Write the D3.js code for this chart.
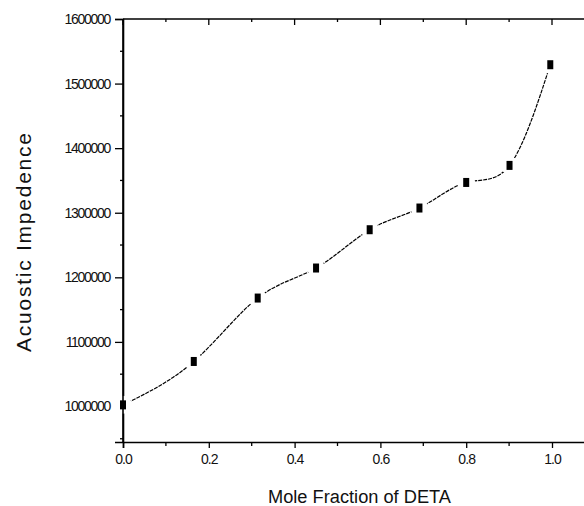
<!DOCTYPE html>
<html>
<head>
<meta charset="utf-8">
<script src="https://cdn.jsdelivr.net/npm/d3@7"></script>
<style>
  body { margin: 0; background: #fff; }
  text { font-family: "Liberation Sans", Arial, sans-serif; fill: #111; }
</style>
</head>
<body>
<div id="chart"></div>
<script>
// data
const moleFraction = [0, 0.165, 0.314, 0.45, 0.575, 0.691, 0.8, 0.901, 0.996]
const impedance = [1002500, 1069700, 1167900, 1214400, 1273700, 1307300, 1346900, 1373300, 1529200]
const xTicks = [0, 0.2, 0.4, 0.6, 0.8, 1.0]
const yTicks = [1000000, 1100000, 1200000, 1300000, 1400000, 1500000, 1600000]

const margin = {top: 19, right: 0, bottom: 64, left: 123}
const width = 584 - margin.left - margin.right
const height = 506 - margin.top - margin.bottom

const svg = d3.select("#chart").append("svg")
    .attr("width", 584)
    .attr("height", 506)
  .append("g")
    .attr("transform", "translate(" + margin.left + "," + margin.top + ")")

const xScale = d3.scaleLinear()
    .domain([0, 1.1])
    .range([0, 1.1 * 429])

const yScale = d3.scaleLinear()
    .domain([945000, 1600000])
    .range([height, 0])

// minor ticks
const xMinor = d3.range(0.1, 1.1, 0.2)
const yMinor = d3.range(950000, 1600000, 100000)

// bottom axis
const xGroup = svg.append("g")
    .attr("class", "x-axis")
    .attr("transform", `translate(0, ${height})`)
    .call(d3.axisBottom(xScale).tickValues(xTicks).tickSize(6).tickPadding(6)
        .tickFormat(d3.format(".1f")))
xGroup.selectAll(".tick line").attr("stroke-width", 1.3)
xGroup.selectAll(".tick text").style("font-size", "14px").style("letter-spacing", "-0.9px")
xGroup.selectAll(".minor").data(xMinor).join("line")
    .attr("class", "minor")
    .attr("x1", d => xScale(d)).attr("x2", d => xScale(d))
    .attr("y1", 0).attr("y2", 4)
    .attr("stroke", "#000").attr("stroke-width", 1.3)

// left axis
const yGroup = svg.append("g")
    .attr("class", "y-axis")
    .call(d3.axisLeft(yScale).tickValues(yTicks).tickSize(8).tickPadding(5)
        .tickFormat(d3.format("d")))
yGroup.selectAll(".tick line").attr("stroke-width", 1.3)
yGroup.selectAll(".tick text").style("font-size", "14px").style("letter-spacing", "-1.3px")
yGroup.selectAll(".minor").data(yMinor).join("line")
    .attr("class", "minor")
    .attr("x1", -3).attr("x2", 0)
    .attr("y1", d => yScale(d)).attr("y2", d => yScale(d))
    .attr("stroke", "#000").attr("stroke-width", 1.3)

svg.selectAll(".domain").attr("stroke-width", 1.6).attr("stroke", "#000")

// top axis, ticks pointing in
const topGroup = svg.append("g").attr("class", "top-axis")
topGroup.append("line")
    .attr("x1", 0).attr("x2", xScale(1.1))
    .attr("y1", 0).attr("y2", 0)
    .attr("stroke", "#000").attr("stroke-width", 1.6)
topGroup.selectAll(".major").data(xTicks).join("line")
    .attr("class", "major")
    .attr("x1", d => xScale(d)).attr("x2", d => xScale(d))
    .attr("y1", 0).attr("y2", 6)
    .attr("stroke", "#000").attr("stroke-width", 1.3)
topGroup.selectAll(".minor").data(xMinor).join("line")
    .attr("class", "minor")
    .attr("x1", d => xScale(d)).attr("x2", d => xScale(d))
    .attr("y1", 0).attr("y2", 3)
    .attr("stroke", "#000").attr("stroke-width", 1.3)

// labels
svg.append("text")
    .attr("x", 359.5 - margin.left)
    .attr("y", height + 61)
    .attr("text-anchor", "middle")
    .attr("textLength", 183)
    .attr("lengthAdjust", "spacingAndGlyphs")
    .style("font-size", "18px")
    .text("Mole Fraction of DETA")

svg.append("text")
    .attr("transform", `translate(${31 - margin.left}, ${242.5 - margin.top}) rotate(-90)`)
    .attr("text-anchor", "middle")
    .attr("textLength", 219)
    .attr("lengthAdjust", "spacing")
    .style("font-size", "21px")
    .text("Acuostic Impedence")

// curve through the points
const points = moleFraction.map((d, i) => ({x: d, y: impedance[i]}))

const line = d3.line()
    .curve(d3.curveNatural)
    .x(d => xScale(d.x))
    .y(d => yScale(d.y))

svg.append("path")
    .datum(points)
    .attr("d", line)
    .attr("fill", "none")
    .attr("stroke", "#000")
    .attr("stroke-width", 1.2)
    .attr("stroke-dasharray", "4,1")

// gap around symbols, then symbols
svg.selectAll(".halo").data(points).join("circle")
    .attr("class", "halo")
    .attr("cx", d => xScale(d.x))
    .attr("cy", d => yScale(d.y))
    .attr("r", 9)
    .attr("fill", "#fff")

svg.selectAll(".pt").data(points).join("rect")
    .attr("class", "pt")
    .attr("x", d => xScale(d.x) - 3)
    .attr("y", d => yScale(d.y) - 4.5)
    .attr("width", 6)
    .attr("height", 9)
    .attr("fill", "#000")

// redraw left axis line over the halo of the first point
svg.append("line")
    .attr("x1", 0).attr("x2", 0)
    .attr("y1", 0).attr("y2", height)
    .attr("stroke", "#000").attr("stroke-width", 1.6)
</script>
</body>
</html>
